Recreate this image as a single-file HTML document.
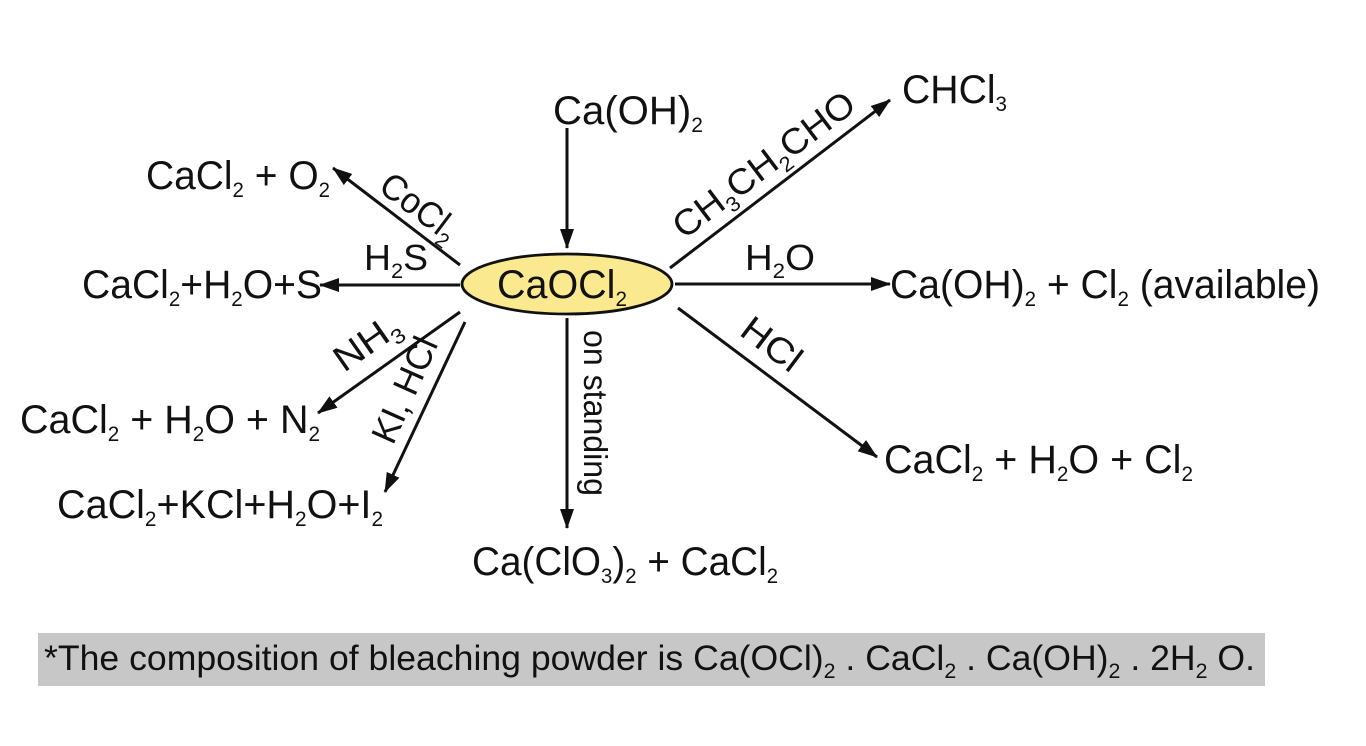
<!DOCTYPE html>
<html><head><meta charset="utf-8"><style>
html,body{margin:0;padding:0;background:#fff;}
svg{display:block;}
text{font-family:"Liberation Sans",Arial,sans-serif;fill:#111;}
.s{font-size:21px;}
</style></head><body>
<svg width="1366" height="746" viewBox="0 0 1366 746" xmlns="http://www.w3.org/2000/svg">
<defs>
<marker id="ah" viewBox="0 0 20 14" refX="19" refY="7" markerWidth="20" markerHeight="14" orient="auto" markerUnits="userSpaceOnUse"><path d="M0,0 L20,7 L0,14 Z" fill="#111"/></marker>
</defs>
<g stroke="#111" stroke-width="3" fill="none" marker-end="url(#ah)">
<line x1="567" y1="128" x2="567" y2="248"/>
<line x1="460" y1="265" x2="333" y2="168"/>
<line x1="460" y1="285" x2="320" y2="285"/>
<line x1="460" y1="312" x2="318" y2="413"/>
<line x1="465" y1="322" x2="385" y2="492"/>
<line x1="567" y1="318" x2="567" y2="528"/>
<line x1="670" y1="268" x2="890" y2="100"/>
<line x1="675" y1="284" x2="890" y2="284"/>
<line x1="678" y1="308" x2="877" y2="457"/>
</g>
<ellipse cx="567" cy="284" rx="105" ry="30" fill="#fbe98f" stroke="#111" stroke-width="2.8"/>
<g font-size="40">
<text x="497" y="298" textLength="130" lengthAdjust="spacingAndGlyphs">CaOCl<tspan class="s" dy="8">2</tspan></text>
<text x="553" y="124" textLength="150" lengthAdjust="spacingAndGlyphs">Ca(OH)<tspan class="s" dy="8">2</tspan></text>
<text x="902" y="103" textLength="105" lengthAdjust="spacingAndGlyphs">CHCl<tspan class="s" dy="8">3</tspan></text>
<text x="146" y="189" textLength="184" lengthAdjust="spacingAndGlyphs">CaCl<tspan class="s" dy="8">2</tspan><tspan dy="-8"> + O</tspan><tspan class="s" dy="8">2</tspan></text>
<text x="82" y="298" textLength="240" lengthAdjust="spacingAndGlyphs">CaCl<tspan class="s" dy="8">2</tspan><tspan dy="-8">+H</tspan><tspan class="s" dy="8">2</tspan><tspan dy="-8">O+S</tspan></text>
<text x="20" y="433" textLength="300" lengthAdjust="spacingAndGlyphs">CaCl<tspan class="s" dy="8">2</tspan><tspan dy="-8"> + H</tspan><tspan class="s" dy="8">2</tspan><tspan dy="-8">O + N</tspan><tspan class="s" dy="8">2</tspan></text>
<text x="57" y="518" textLength="326" lengthAdjust="spacingAndGlyphs">CaCl<tspan class="s" dy="8">2</tspan><tspan dy="-8">+KCl+H</tspan><tspan class="s" dy="8">2</tspan><tspan dy="-8">O+I</tspan><tspan class="s" dy="8">2</tspan></text>
<text x="472" y="575" textLength="306" lengthAdjust="spacingAndGlyphs">Ca(ClO<tspan class="s" dy="8">3</tspan><tspan dy="-8">)</tspan><tspan class="s" dy="8">2</tspan><tspan dy="-8"> + CaCl</tspan><tspan class="s" dy="8">2</tspan></text>
<text x="890" y="298" textLength="430" lengthAdjust="spacingAndGlyphs">Ca(OH)<tspan class="s" dy="8">2</tspan><tspan dy="-8"> + Cl</tspan><tspan class="s" dy="8">2</tspan><tspan dy="-8"> (available)</tspan></text>
<text x="884" y="473" textLength="309" lengthAdjust="spacingAndGlyphs">CaCl<tspan class="s" dy="8">2</tspan><tspan dy="-8"> + H</tspan><tspan class="s" dy="8">2</tspan><tspan dy="-8">O + Cl</tspan><tspan class="s" dy="8">2</tspan></text>
</g>
<g font-size="36">
<text x="364" y="270" textLength="64" lengthAdjust="spacingAndGlyphs">H<tspan class="s" dy="8">2</tspan><tspan dy="-8">S</tspan></text>
<text x="745" y="270" textLength="70" lengthAdjust="spacingAndGlyphs">H<tspan class="s" dy="8">2</tspan><tspan dy="-8">O</tspan></text>
<text transform="translate(377,190) rotate(37)" textLength="88" lengthAdjust="spacingAndGlyphs">CoCl<tspan class="s" dy="8">2</tspan></text>
<text transform="translate(344,373) rotate(-35)" textLength="72" lengthAdjust="spacingAndGlyphs">NH<tspan class="s" dy="8">3</tspan></text>
<text transform="translate(393,446) rotate(-66)" textLength="112" lengthAdjust="spacingAndGlyphs">KI, HCl</text>
<text transform="translate(684,240) rotate(-37)" textLength="218" lengthAdjust="spacingAndGlyphs">CH<tspan class="s" dy="8">3</tspan><tspan dy="-8">CH</tspan><tspan class="s" dy="8">2</tspan><tspan dy="-8">CHO</tspan></text>
<text transform="translate(738,334) rotate(37)" textLength="66" lengthAdjust="spacingAndGlyphs">HCl</text>
<text transform="translate(584,330) rotate(90)" font-size="33" textLength="166" lengthAdjust="spacingAndGlyphs">on standing</text>
</g>
<rect x="38" y="633" width="1227" height="53" fill="#c8c7c8"/>
<text x="44" y="670" font-size="35" textLength="1211" lengthAdjust="spacingAndGlyphs">*The composition of bleaching powder is Ca(OCl)<tspan class="s" dy="8">2</tspan><tspan dy="-8"> . CaCl</tspan><tspan class="s" dy="8">2</tspan><tspan dy="-8"> . Ca(OH)</tspan><tspan class="s" dy="8">2</tspan><tspan dy="-8"> . 2H</tspan><tspan class="s" dy="8">2</tspan><tspan dy="-8"> O.</tspan></text>
</svg>
</body></html>
